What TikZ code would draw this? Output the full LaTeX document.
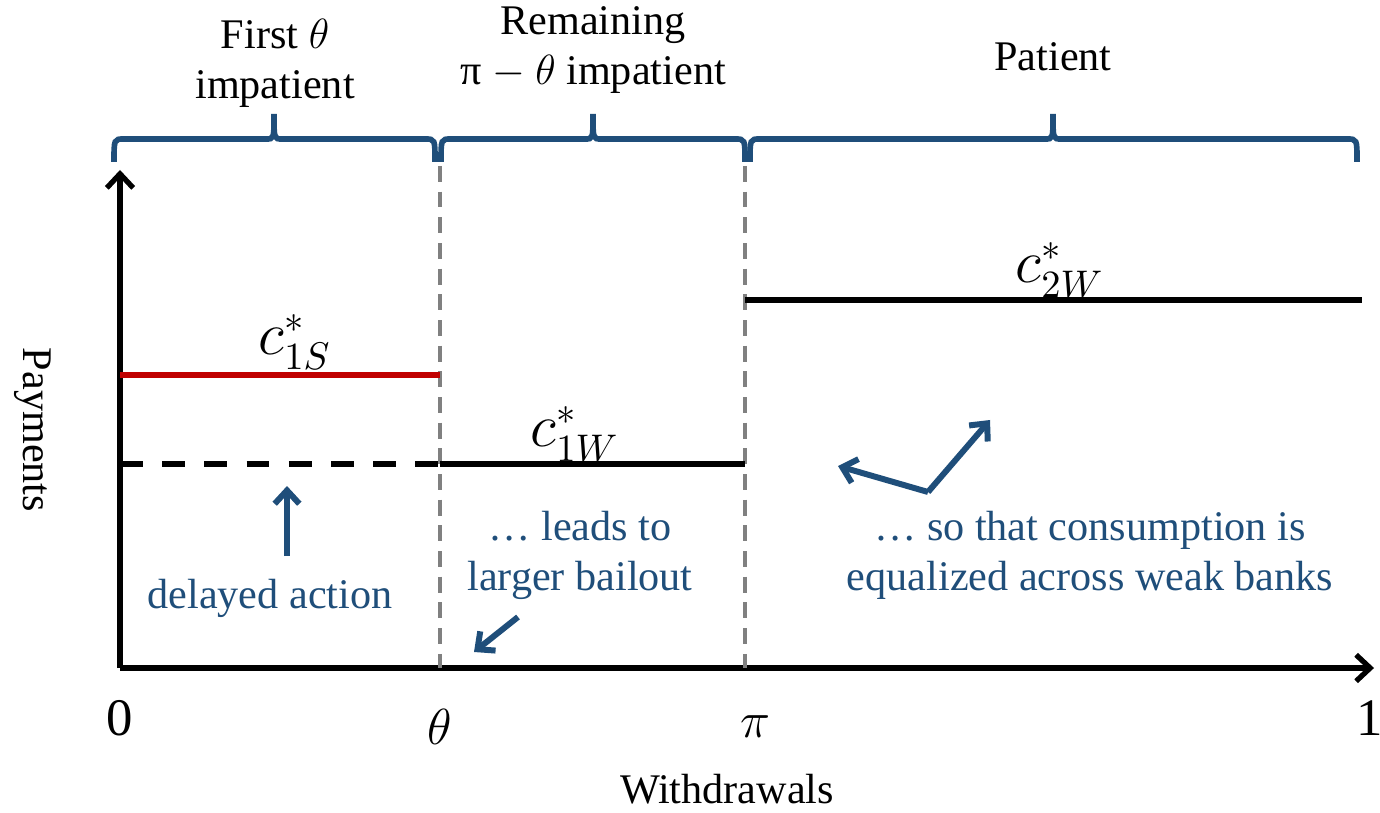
\documentclass[tikz,border=0pt]{standalone}
\usepackage{fontspec}
\setmainfont{Liberation Serif}
\usepackage{xcolor}
\usetikzlibrary{arrows.meta,positioning,calc}

\definecolor{navy}{RGB}{31,78,122}
\definecolor{darkred}{RGB}{192,0,0}

\begin{document}
\begin{tikzpicture}[x=0.01cm, y=-0.01cm, font=\fontsize{12}{14.2}\selectfont,
    axis/.style={line width=1.5pt, -{Straight Barb[length=4pt,width=7.5pt]}},
    level/.style={line width=1.5pt},
    divider/.style={gray, line width=1.4pt, dash pattern=on 4.5pt off 2.8pt},
    grp/.style={navy, line width=1.6pt},
    note/.style={navy, align=center},
    hint/.style={navy, line width=1.7pt, -{Straight Barb[length=3.8pt,width=7pt]}},
    tick/.style={font=\fontsize{15}{18}\selectfont},
    pay/.style={font=\fontsize{16}{19}\selectfont}]
    \useasboundingbox (0,0) rectangle (1380,813);

    % axes
    \coordinate (o) at (120,668);
    \coordinate (ytop) at (120,170);
    \coordinate (xend) at (1374,668);
    \draw [axis] (o) -- (ytop);
    \draw [axis] (o) -- (xend);
    \node (pay) at (33,430) [rotate=-90] {Payments};
    \node (wd) at (727,789) {Withdrawals};

    \node (t0) at (120,718) [tick] {0};
    \node (tth) at (440,727) [tick] {$\theta$};
    \node (tpi) at (755,727) [tick] {$\pi$};
    \node (t1) at (1370,718) [tick] {1};

    % cut-offs
    \draw [divider] (440,166) -- (440,668);
    \draw [divider] (745,166) -- (745,668);

    % groups of depositors
    \draw [grp] (114,162) .. controls (114,139) .. (124,139) -- (266,139) .. controls (274,139) .. (274,114) .. controls (274,139) .. (282,139) -- (425,139) .. controls (435,139) .. (435,162);
    \draw [grp] (441,162) .. controls (441,139) .. (451,139) -- (585,139) .. controls (593,139) .. (593,114) .. controls (593,139) .. (601,139) -- (735,139) .. controls (745,139) .. (745,162);
    \draw [grp] (750,162) .. controls (750,139) .. (760,139) -- (1045,139) .. controls (1053,139) .. (1053,114) .. controls (1053,139) .. (1061,139) -- (1347,139) .. controls (1357,139) .. (1357,162);
    \node (first) at (275,63) [align=center] {First $\theta$\\impatient};
    \node (rest) at (593,50) [align=center] {Remaining\\π $-$ $\theta$ impatient};
    \node (patient) at (1053,57) {Patient};

    % payments
    \draw [level, darkred] (120,375) -- (440,375);
    \draw [level, dash pattern=on 6.5pt off 5.5pt] (120,464) -- (440,464);
    \draw [level] (440,464) -- (745,464);
    \draw [level] (745,300) -- (1362,300);
    \node (c1s) at (295,342) [pay] {$c^*_{1S}$};
    \node (c1w) at (575,434) [pay] {$c^*_{1W}$};
    \node (c2w) at (1060,270) [pay] {$c^*_{2W}$};

    % comments
    \node (delay) at (270,598) [note] {delayed action};
    \node (bail) at (580,555) [note] {… leads to\\larger bailout};
    \node (equal) at (1090,555) [note] {… so that consumption is\\equalized across weak banks};

    \coordinate (up0) at (287,556);
    \coordinate (up1) at (287,486);
    \coordinate (bl0) at (518,617);
    \coordinate (bl1) at (474,652);
    \coordinate (fork) at (928,492);
    \coordinate (eqL) at (838,466);
    \coordinate (eqR) at (990,420);
    \draw [hint] (up0) -- (up1);
    \draw [hint] (bl0) -- (bl1);
    \draw [hint] (fork) -- (eqL);
    \draw [hint] (fork) -- (eqR);
\end{tikzpicture}
\end{document}
